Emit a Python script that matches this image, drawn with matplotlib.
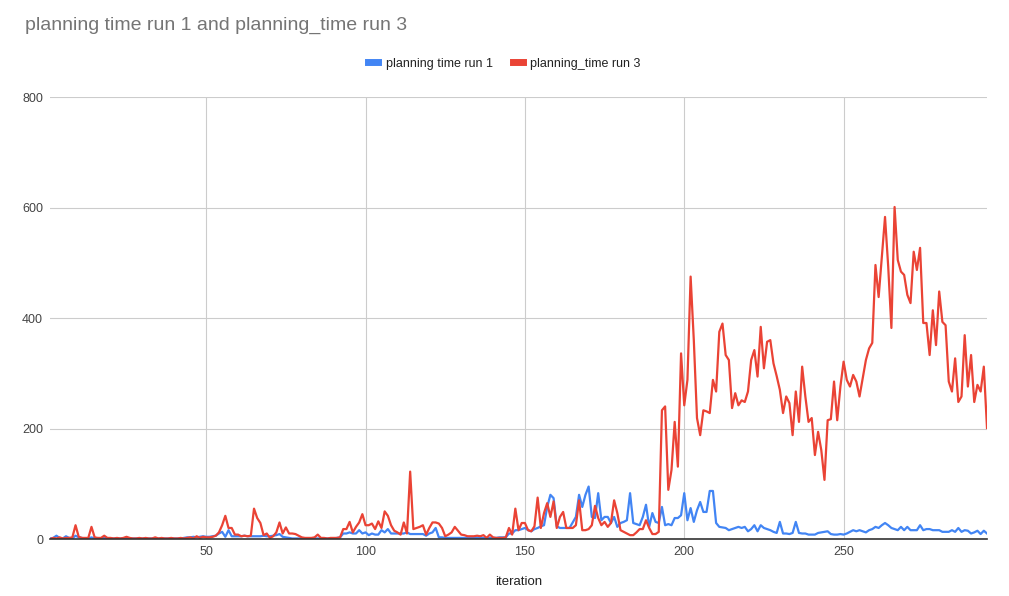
import matplotlib
matplotlib.use("Agg")
import matplotlib.pyplot as plt
import numpy as np

# planning time per iteration
run1 = [1, 2, 6, 2, 1, 5, 2, 1, 6, 3,
        2, 1, 1, 3, 1, 1, 1, 2, 1, 1,
        1, 1, 1, 1, 1, 1, 1, 1, 1, 1,
        1, 1, 1, 1, 1, 1, 1, 1, 1, 1,
        1, 1, 2, 3, 3, 4, 3, 4, 5, 4,
        4, 5, 6, 10, 13, 4, 16, 5, 5, 5,
        5, 6, 5, 5, 5, 5, 5, 6, 5, 5,
        6, 7, 9, 4, 3, 2, 1, 1, 1, 1,
        1, 1, 1, 1, 1, 1, 1, 1, 1, 1,
        2, 3, 10, 10, 12, 10, 10, 16, 10, 12,
        7, 10, 8, 8, 16, 12, 18, 10, 10, 10,
        10, 10, 12, 9, 9, 9, 9, 9, 6, 10,
        12, 20, 3, 3, 2, 2, 2, 2, 2, 2,
        2, 2, 2, 2, 2, 2, 2, 2, 2, 2,
        2, 3, 3, 3, 10, 10, 16, 16, 18, 20,
        16, 14, 18, 20, 23, 25, 58, 80, 74, 23,
        20, 20, 20, 20, 30, 40, 80, 58, 80, 95,
        40, 38, 83, 34, 40, 40, 29, 40, 22, 29,
        31, 34, 83, 29, 27, 25, 40, 62, 22, 47,
        31, 29, 58, 25, 27, 25, 38, 38, 43, 83,
        34, 56, 31, 52, 67, 49, 49, 87, 87, 29,
        22, 21, 20, 16, 18, 20, 22, 20, 22, 14,
        18, 25, 14, 25, 20, 18, 16, 13, 11, 31,
        10, 10, 9, 11, 31, 11, 10, 10, 8, 8,
        8, 11, 12, 13, 14, 9, 8, 8, 9, 8,
        10, 13, 16, 14, 16, 14, 12, 16, 18, 22,
        20, 25, 29, 25, 20, 18, 16, 22, 16, 22,
        16, 16, 16, 25, 16, 18, 18, 16, 16, 16,
        13, 13, 13, 16, 13, 20, 13, 16, 15, 10,
        12, 15, 9, 15, 10]

run3 = [0, 2, 1, 3, 1, 2, 2, 3, 25, 4,
        2, 2, 2, 22, 3, 2, 2, 6, 2, 2,
        1, 2, 1, 2, 4, 2, 1, 1, 2, 1,
        2, 1, 1, 3, 1, 2, 1, 1, 2, 1,
        1, 2, 1, 2, 3, 1, 5, 2, 4, 3,
        3, 4, 6, 12, 25, 42, 20, 20, 8, 8,
        5, 6, 5, 6, 55, 38, 29, 7, 10, 2,
        5, 12, 30, 10, 21, 10, 10, 9, 6, 3,
        2, 2, 2, 3, 8, 2, 2, 1, 2, 2,
        2, 3, 18, 18, 31, 12, 22, 30, 45, 25,
        25, 28, 18, 32, 20, 50, 42, 25, 15, 12,
        8, 30, 10, 122, 18, 20, 22, 25, 8, 20,
        30, 30, 28, 20, 5, 8, 12, 22, 15, 8,
        7, 5, 5, 5, 6, 5, 7, 2, 8, 3,
        2, 2, 2, 3, 20, 8, 55, 16, 29, 29,
        16, 14, 23, 75, 20, 47, 65, 40, 68, 20,
        40, 49, 20, 20, 20, 25, 70, 16, 16, 18,
        25, 60, 38, 25, 31, 22, 29, 70, 47, 16,
        13, 10, 7, 7, 12, 18, 18, 34, 20, 9,
        9, 13, 233, 240, 89, 125, 212, 131, 336, 242,
        288, 475, 360, 219, 188, 233, 231, 228, 288, 267,
        375, 390, 333, 324, 237, 264, 242, 251, 248, 267,
        324, 342, 294, 384, 309, 357, 360, 318, 295, 270,
        228, 258, 246, 188, 267, 212, 312, 258, 212, 219,
        152, 194, 161, 107, 215, 217, 285, 215, 276, 321,
        288, 276, 297, 285, 258, 291, 324, 345, 355, 496,
        438, 511, 583, 493, 382, 601, 505, 484, 478, 442,
        427, 520, 487, 527, 391, 391, 333, 414, 351, 448,
        393, 387, 285, 267, 327, 248, 258, 369, 276, 333,
        248, 279, 267, 312, 201]

iteration = np.arange(1, len(run3) + 1)
x_ticks = [50, 100, 150, 200, 250]
y_ticks = [0, 200, 400, 600, 800]

blue = "#4285F4"
red = "#EA4335"

plt.rcParams['font.family'] = ['Liberation Sans', 'DejaVu Sans']

fig = plt.figure(figsize=(10.09, 5.96), dpi=100)
ax = fig.add_axes([0.0496, 0.0956, 0.9286, 0.7416])

ax.plot(iteration, run1, color=blue, lw=1.6, label="planning time run 1")
ax.plot(iteration, run3, color=red, lw=1.6, label="planning_time run 3")

ax.set_xlim(1, 295)
ax.set_ylim(0, 800)
ax.set_xticks(x_ticks)
ax.set_yticks(y_ticks)
ax.grid(True, color="#cccccc", lw=0.8)
ax.set_axisbelow(True)
ax.tick_params(length=0, labelsize=9, colors="#444444", pad=5)
for s in ["top", "right", "left"]:
    ax.spines[s].set_visible(False)
ax.spines["bottom"].set_color("#333333")
ax.spines["bottom"].set_linewidth(1.2)

ax.set_xlabel("iteration", fontsize=9.5, color="#222222", labelpad=13)

fig.text(0.025, 0.957, "planning time run 1 and planning_time run 3",
         fontsize=14, color="#757575", va="center", ha="left")

leg = fig.legend(loc="center", bbox_to_anchor=(0.5, 0.893), ncol=2, frameon=False,
                 fontsize=9, handlelength=0.8, handletextpad=0.6, columnspacing=1.6)
for h in leg.get_lines():
    h.set_linewidth(5)
for t in leg.get_texts():
    t.set_color("#222222")

fig.savefig("out.png", dpi=100)
